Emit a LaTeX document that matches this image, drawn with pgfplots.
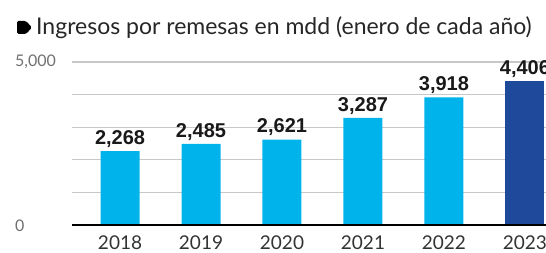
\documentclass[border=0pt]{standalone}
\usepackage{fontspec}
\setmainfont{Lato}
\newfontfamily\valfont{Liberation Sans}
\usepackage{pgfplots}
\pgfplotsset{compat=1.18}
\definecolor{barblue}{HTML}{00B4EB}
\definecolor{darkblue}{HTML}{1F4A9C}
\definecolor{gridgray}{HTML}{C8C8C8}
\definecolor{ticklab}{HTML}{707070}
\pgfplotstableread{
x y lab
0 2268 2,268
1 2485 2,485
2 2621 2,621
3 3287 3,287
4 3918 3,918
}\lightdata
\pgfplotstableread{
x y lab
5 4406 4,406
}\darkdata
\begin{document}
\begin{tikzpicture}
\useasboundingbox (0pt,0pt) rectangle (546pt,253pt);
\clip (0pt,0pt) rectangle (546pt,253pt);
\fill[black, rounded corners=1.5pt] (17pt,219pt) -- (26pt,219pt) -- (32pt,225.5pt) -- (26pt,232pt) -- (17pt,232pt) -- cycle;
\node[anchor=base west, inner sep=0pt, font=\fontsize{23}{23}\selectfont, text=black!85] at (36pt,218pt) {Ingresos por remesas en mdd (enero de cada año)};
\node[anchor=west, inner sep=0pt, font=\fontsize{16}{16}\selectfont, text=ticklab] at (15pt,191pt) {5,000};
\node[anchor=west, inner sep=0pt, font=\fontsize{16}{16}\selectfont, text=ticklab] at (15pt,27pt) {0};
\begin{pgfinterruptboundingbox}
\begin{axis}[
  at={(72pt,28pt)}, anchor=south west,
  scale only axis, width=474pt, height=163pt,
  xmin=-0.593, xmax=5.26, ymin=0, ymax=5000,
  axis lines=none,
  clip=false,
  ytick=\empty, xtick=\empty,
]
\foreach \v in {1000,2000,3000,4000,5000}{
  \edef\tmp{\noexpand\draw[gridgray, line width=1.2pt] (axis cs:-0.593,\v) -- (axis cs:5.26,\v);}
  \tmp
}
\addplot[ybar, bar width=39pt, fill=barblue, draw=none,
  nodes near coords, point meta=explicit symbolic,
  every node near coord/.append style={font=\valfont\fontsize{20}{20}\selectfont\bfseries, text=black!90, yshift=0pt}]
  table[x=x, y=y, meta=lab] \lightdata;
\addplot[ybar, bar width=39pt, fill=darkblue, draw=none,
  nodes near coords, point meta=explicit symbolic,
  every node near coord/.append style={font=\valfont\fontsize{20}{20}\selectfont\bfseries, text=black!90, yshift=0pt}]
  table[x=x, y=y, meta=lab] \darkdata;
\draw[black, line width=2pt] (axis cs:-0.593,0) -- (axis cs:5.26,0);
\foreach \i/\t in {0/2018,1/2019,2/2020,3/2021,4/2022,5/2023}{
  \edef\tmp{\noexpand\node[anchor=north, inner sep=0pt, font=\noexpand\fontsize{19}{19}\noexpand\selectfont, text=black!80] at (axis cs:\i,0) [yshift=-11pt] {\t};}
  \tmp
}
\end{axis}
\end{pgfinterruptboundingbox}
\end{tikzpicture}
\end{document}
